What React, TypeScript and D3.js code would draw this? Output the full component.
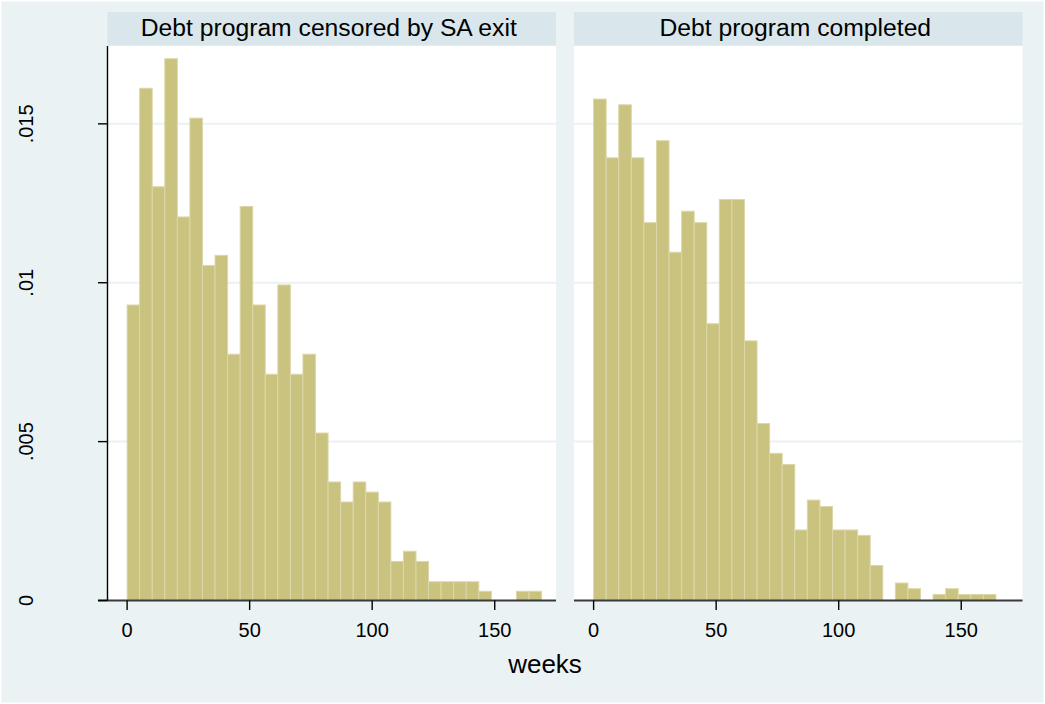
import React from "react";
import * as d3 from "d3";

const W = 1045;
const H = 704;

// Panel titles
const panelTitles = ["Debt program censored by SA exit", "Debt program completed"];

// Histogram densities (bins start at 0)
const leftBinWidth = 5.125;
const leftDensity = [
  0.0093, 0.01612, 0.01302, 0.01705, 0.01207, 0.01518, 0.01054, 0.01086, 0.00775, 0.0124,
  0.0093, 0.00712, 0.00993, 0.00712, 0.00775, 0.00527, 0.00373, 0.0031, 0.00373, 0.00341,
  0.0031, 0.00123, 0.00155, 0.00123, 0.00059, 0.00059, 0.00059, 0.00059, 0.00029, 0,
  0, 0.00029, 0.00029,
];
const rightBinWidth = 5.13;
const rightDensity = [
  0.01578, 0.01393, 0.0156, 0.01393, 0.01189, 0.01447, 0.01096, 0.01225, 0.01189, 0.00871,
  0.01262, 0.01262, 0.00817, 0.00557, 0.00463, 0.00428, 0.00222, 0.00316, 0.00296, 0.00222,
  0.00222, 0.00205, 0.0011, 0, 0.00055, 0.00037, 0, 0.00019, 0.00037, 0.00019,
  0.00019, 0.00019,
];

const yTicks = [0, 0.005, 0.01, 0.015];
const yTickLabels = ["0", ".005", ".01", ".015"];
const xTicks = [0, 50, 100, 150];
const xTitle = "weeks";

const BG = "#EAF2F3";
const STRIP = "#D9E6EB";
const BAR = "#CAC27F";
const BAR_EDGE = "#DCD7A9";
const GRID = "#EAF2F3";
const FONT = "'Liberation Sans', Arial, Helvetica, sans-serif";

const plotTop = 46;
const plotBottom = 600.5;
const stripTop = 12;
const stripBottom = 45.5;

const yScale = d3.scaleLinear().domain([0, 0.01745]).range([plotBottom, plotTop]);

const panels = [
  { x0: 107.5, x1: 556, title: panelTitles[0], data: leftDensity, bw: leftBinWidth, yAxis: true },
  { x0: 574, x1: 1022.5, title: panelTitles[1], data: rightDensity, bw: rightBinWidth, yAxis: false },
];

function Panel({ p }: { p: (typeof panels)[number] }) {
  const x = d3.scaleLinear().domain([-8, 175]).range([p.x0, p.x1]);
  const bins = p.data.map((v, i) => ({ lo: i * p.bw, hi: (i + 1) * p.bw, v }));
  return (
    <g>
      <rect x={p.x0} y={stripTop} width={p.x1 - p.x0} height={stripBottom - stripTop} fill={STRIP} />
      <text
        x={(p.x0 + p.x1) / 2 - 3}
        y={36}
        textAnchor="middle"
        fontFamily={FONT}
        fontSize={24.7}
        fill="#000"
      >
        {p.title}
      </text>
      <rect x={p.x0} y={plotTop} width={p.x1 - p.x0} height={plotBottom - plotTop} fill="#fff" />
      {yTicks.filter((t) => t > 0).map((t) => (
        <line key={t} x1={p.x0} x2={p.x1} y1={yScale(t)} y2={yScale(t)} stroke={GRID} strokeWidth={2} />
      ))}
      {bins
        .filter((b) => b.v > 0)
        .map((b, i) => (
          <rect
            key={i}
            x={x(b.lo)}
            y={yScale(b.v)}
            width={x(b.hi) - x(b.lo)}
            height={yScale(0) - yScale(b.v)}
            fill={BAR}
            stroke={BAR_EDGE}
            strokeWidth={1}
          />
        ))}
      <line x1={p.yAxis ? 98 : p.x0} x2={p.x1} y1={plotBottom} y2={plotBottom} stroke="#3a3a3a" strokeWidth={2} />
      {xTicks.map((t) => (
        <g key={t}>
          <line x1={x(t)} x2={x(t)} y1={plotBottom} y2={610} stroke="#000" strokeWidth={1.4} />
          <text x={x(t)} y={637} textAnchor="middle" fontFamily={FONT} fontSize={20} fill="#000">
            {t}
          </text>
        </g>
      ))}
      {p.yAxis && (
        <g>
          <line x1={p.x0} x2={p.x0} y1={plotTop} y2={plotBottom} stroke="#000" strokeWidth={1.4} />
          {yTicks.map((t, i) => (
            <g key={t}>
              <line x1={98} x2={p.x0} y1={yScale(t)} y2={yScale(t)} stroke="#000" strokeWidth={1.4} />
              <text
                transform={`translate(33,${yScale(t)}) rotate(-90)`}
                textAnchor="middle"
                fontFamily={FONT}
                fontSize={20}
                fill="#000"
              >
                {yTickLabels[i]}
              </text>
            </g>
          ))}
        </g>
      )}
    </g>
  );
}

export default function App() {
  return (
    <svg
      width={W}
      height={H}
      style={{ position: "absolute", left: 0, top: 0, display: "block" }}
      xmlns="http://www.w3.org/2000/svg"
    >
      <rect x={0} y={0} width={W} height={H} fill="#fff" />
      <rect x={1.5} y={1.5} width={W - 3} height={H - 3} fill={BG} />
      {panels.map((p, i) => (
        <Panel key={i} p={p} />
      ))}
      <text x={545} y={673} textAnchor="middle" fontFamily={FONT} fontSize={26} fill="#000">
        {xTitle}
      </text>
    </svg>
  );
}
